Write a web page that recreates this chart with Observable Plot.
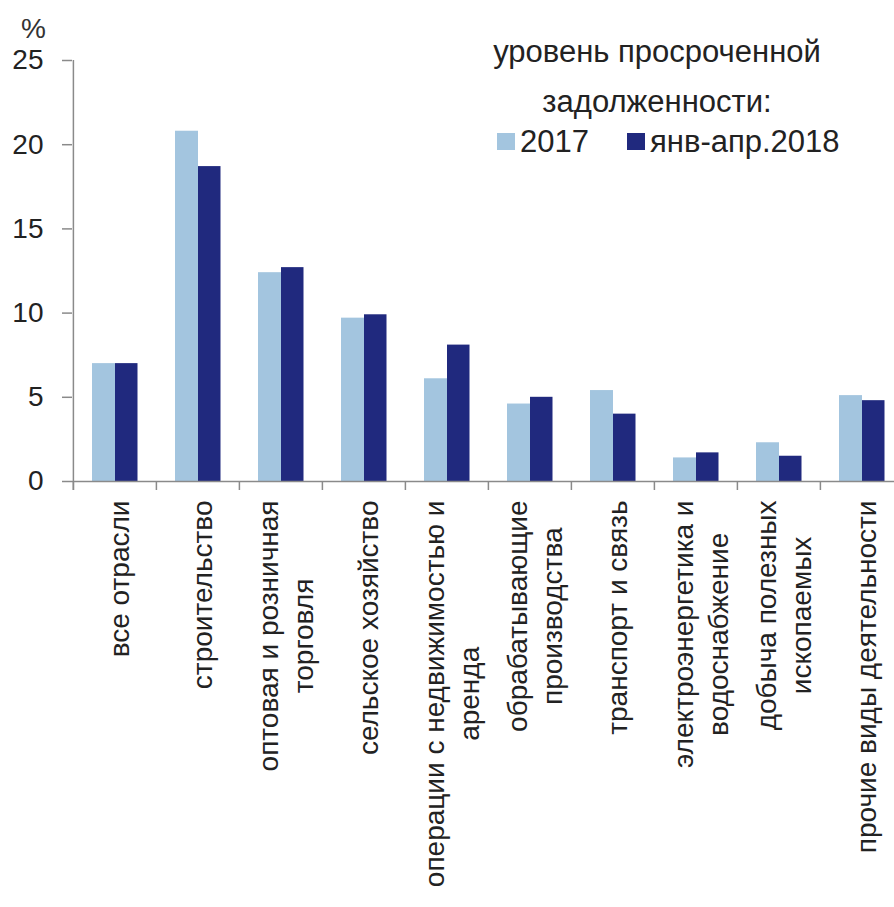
<!DOCTYPE html>
<html><head><meta charset="utf-8">
<script src="https://cdn.jsdelivr.net/npm/d3@7"></script>
<script src="https://cdn.jsdelivr.net/npm/@observablehq/plot@0.6"></script>
<style>
body{margin:0;background:#fff;font-family:"Liberation Sans",Arial,sans-serif;}
#wrap{position:relative;width:894px;height:907px;overflow:hidden;background:#fff;}
.lg{position:absolute;color:#222;font-size:31px;white-space:nowrap;font-family:"Liberation Sans",Arial,sans-serif;}
.sw{position:absolute;width:18px;height:17px;}
</style></head><body><div id="wrap"></div>
<script>
const categories = ["все отрасли","строительство","оптовая и розничная торговля","сельское хозяйство","операции с недвижимостью и аренда","обрабатывающие производства","транспорт и связь","электроэнергетика и водоснабжение","добыча полезных ископаемых","прочие виды деятельности"];
const categoryLabels = ["все отрасли","строительство","оптовая и розничная\nторговля","сельское хозяйство","операции с недвижимостью и\nаренда","обрабатывающие\nпроизводства","транспорт и связь","электроэнергетика и\nводоснабжение","добыча полезных\nископаемых","прочие виды деятельности"];
const values2017 = [7.0, 20.8, 12.4, 9.7, 6.1, 4.6, 5.4, 1.4, 2.3, 5.1];
const values2018 = [7.0, 18.7, 12.7, 9.9, 8.1, 5.0, 4.0, 1.7, 1.5, 4.8];
const seriesNames = ["2017", "янв-апр.2018"];
const seriesColors = ["#a3c5df", "#20297e"];
const yTicks = [0, 5, 10, 15, 20, 25];
const unitLabel = "%";
const legendTitle = ["уровень просроченной", "задолженности:"];

const axisColor = "#8a8a8a";
const rows2017 = categories.map((c, i) => ({category: c, value: values2017[i]}));
const rows2018 = categories.map((c, i) => ({category: c, value: values2018[i]}));
const half = 41.6;

const plot = Plot.plot({
  width: 894, height: 907,
  marginTop: 60, marginBottom: 426, marginLeft: 72, marginRight: 0,
  style: {fontFamily: "Liberation Sans, Arial, sans-serif", fontSize: "28px", color: "#222", background: "transparent"},
  x: {domain: categories, range: [72, 904], padding: 0, axis: null},
  y: {domain: [0, 25], axis: null},
  marks: [
    Plot.barY(rows2017, {x: "category", y: "value", fill: seriesColors[0], insetLeft: 19, insetRight: 41}),
    Plot.barY(rows2018, {x: "category", y: "value", fill: seriesColors[1], insetLeft: 42, insetRight: 18.5}),
    Plot.ruleY([0], {stroke: axisColor, strokeWidth: 1.5}),
    Plot.ruleX([categories[0]], {x: d => d, dx: -half, stroke: axisColor, strokeWidth: 1.5, insetBottom: -9}),
    Plot.ruleX(categories, {x: d => d, dx: -half, stroke: axisColor, strokeWidth: 1.5, insetTop: 421, insetBottom: -9}),
    Plot.axisY({ticks: yTicks, tickSize: 10, tickPadding: 19, stroke: axisColor, strokeWidth: 1.5, fill: "#222", fontSize: 28, label: null}),
    Plot.axisX({tickSize: 0, tickPadding: 19, tickRotate: -90, textAnchor: "end", lineAnchor: "middle", lineHeight: 1.25, fontSize: 28, fill: "#222", dx: 3, label: null,
      tickFormat: d => categoryLabels[categories.indexOf(d)]}),
    Plot.text([unitLabel], {text: d => d, frameAnchor: "top-left", dx: -39, dy: -31, textAnchor: "middle", lineAnchor: "middle", fontSize: 28, fill: "#333"})
  ]
});
const wrap = document.getElementById("wrap");
wrap.appendChild(plot);

// center shorter lines of multi-line category labels
plot.querySelectorAll('g[aria-label="x-axis tick label"] text').forEach(t => {
  const spans = Array.from(t.querySelectorAll("tspan"));
  if (spans.length < 2) return;
  const lens = spans.map(s => s.getComputedTextLength());
  const L = Math.max(...lens);
  spans.forEach((s, i) => s.setAttribute("x", -(L - lens[i]) / 2));
});

// legend
function addDiv(cls, css, text) {
  const d = document.createElement("div");
  d.className = cls;
  Object.assign(d.style, css);
  if (text != null) d.textContent = text;
  wrap.appendChild(d);
  return d;
}
addDiv("lg", {left: "457px", width: "400px", top: "27px", textAlign: "center", lineHeight: "50px", whiteSpace: "pre"}, legendTitle.join("\n"));
addDiv("sw", {left: "497px", top: "133px", background: seriesColors[0]});
addDiv("lg", {left: "520px", top: "126px", lineHeight: "31px"}, seriesNames[0]);
addDiv("sw", {left: "627px", top: "133px", background: seriesColors[1]});
addDiv("lg", {left: "650px", top: "126px", lineHeight: "31px"}, seriesNames[1]);
</script></body></html>
